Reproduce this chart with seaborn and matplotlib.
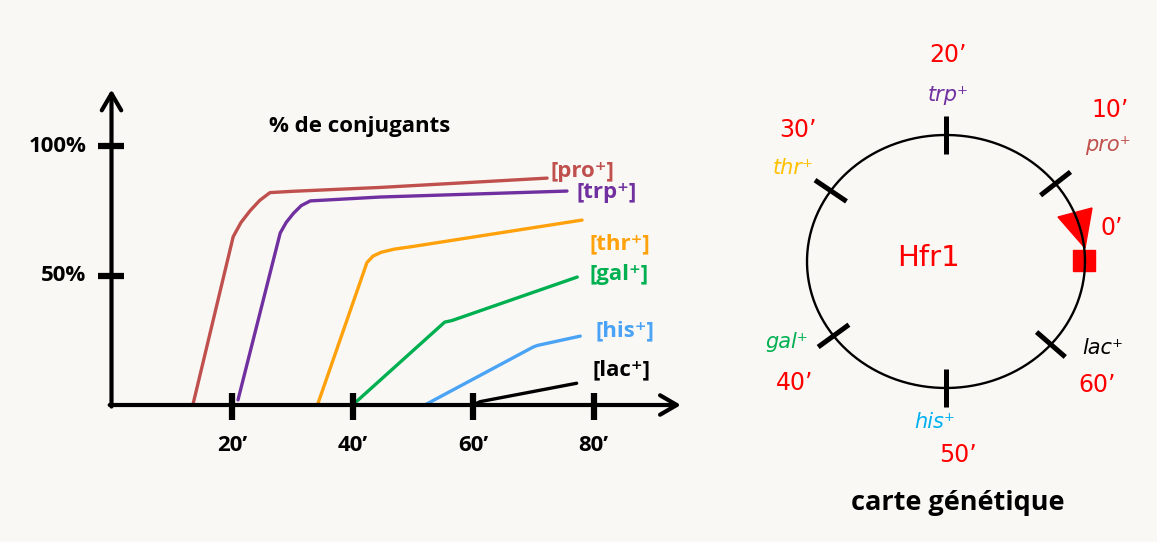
import numpy as np
import pandas as pd
import matplotlib
matplotlib.use('Agg')
import matplotlib.pyplot as plt
import seaborn as sns
from matplotlib.patches import Polygon, Rectangle

# --- data -------------------------------------------------------------
genes = ['pro', 'trp', 'thr', 'gal', 'his', 'lac']
pro_t = [13.5, 20.2, 21.5, 23, 24.6, 26.3, 30, 44.6, 72.3]
pro_y = [0, 65, 70.5, 75, 79, 82, 82.5, 84, 87.6]
trp_t = [21, 28, 29, 30.2, 31.5, 33, 44.6, 75.6]
trp_y = [2, 66.4, 70.5, 74, 77, 78.8, 80.3, 82.6]
thr_t = [34.3, 42.4, 43.4, 44.8, 47, 50, 78.1]
thr_y = [0.8, 55, 57.5, 59, 60.2, 61.2, 71.4]
gal_t = [40.4, 55.3, 56.5, 77.3]
gal_y = [0.8, 32, 32.6, 49.4]
his_t = [52, 70, 70.7, 77.8]
his_y = [0, 22.4, 23, 26.6]
lac_t = [60, 61.2, 77.2]
lac_y = [0, 1.3, 8.4]

line_colors = {'pro': '#c0504d', 'trp': '#7030a0', 'thr': '#ffa10a',
               'gal': '#00b050', 'his': '#4ba3f5', 'lac': '#000000'}
curve_labels = ['[pro⁺]', '[trp⁺]', '[thr⁺]', '[gal⁺]', '[his⁺]', '[lac⁺]']
label_x = [72.9, 77.1, 79.4, 79.4, 80.4, 79.9]
label_y = [90, 81.9, 62.2, 50.2, 28.6, 13.5]

x_ticks = [20, 40, 60, 80]
x_tick_labels = ['20’', '40’', '60’', '80’']
y_ticks = [50, 100]
y_tick_labels = ['50%', '100%']

# genetic map
map_minutes = ['10’', '20’', '30’', '40’', '50’', '60’']
map_genes = ['pro⁺', 'trp⁺', 'thr⁺', 'gal⁺', 'his⁺', 'lac⁺']
map_gene_colors = ['#c0504d', '#7030a0', '#ffc000', '#00b050', '#00b0f0', '#000000']
map_angles = [38, 90, 146, 216, 270, 319]
minute_pos = [(164, 151.5), (2, 206.5), (-148, 131.5), (-151, -121.5), (12, -193.5), (151, -123.5)]
gene_pos = [(162, 116.5), (2, 166.5), (-153, 93.5), (-159, -80.5), (-11, -160.5), (157, -86.5)]

# --- figure -------------------------------------------------------------
bg = '#f9f8f5'
sns.set_theme(style='white')
plt.rcParams['font.family'] = ['Open Sans', 'DejaVu Sans']
plt.rcParams['text.color'] = 'black'
W, H = 1157, 542
fig = plt.figure(figsize=(W / 100, H / 100), dpi=100, facecolor=bg)

# left panel: pixel -> data mapping  x0=111.5px, 6.025 px/min ; y0=405px, 2.59 px/%
ax = fig.add_axes([0, 72 / H, 700 / W, 410 / H])
ax.set_facecolor(bg)
ax.set_xlim((0 - 111.5) / 6.025, (700 - 111.5) / 6.025)
ax.set_ylim((405 - 470) / 2.59, (405 - 60) / 2.59)
ax.axis('off')

ts = [pro_t, trp_t, thr_t, gal_t, his_t, lac_t]
ys = [pro_y, trp_y, thr_y, gal_y, his_y, lac_y]
df = pd.concat([pd.DataFrame({'t': t, 'pct': y, 'gene': g})
                for g, t, y in zip(genes, ts, ys)])
sns.lineplot(data=df, x='t', y='pct', hue='gene', palette=line_colors, units='gene',
             estimator=None, sort=False, legend=False, lw=2.4, ax=ax)

arrow = dict(arrowstyle='->, head_length=0.6, head_width=0.35', lw=3, color='black',
             mutation_scale=20, shrinkA=0, shrinkB=0)
ax.annotate('', xy=(94.5, 0), xytext=(-0.3, 0), arrowprops=arrow)
ax.annotate('', xy=(0, 121.8), xytext=(0, -0.6), arrowprops=arrow)

for xt, lab in zip(x_ticks, x_tick_labels):
    ax.plot([xt, xt], [4.8, -5.8], color='black', lw=4.5, solid_capstyle='butt')
    ax.text(xt, -15.8, lab, ha='center', va='center', fontsize=16, fontweight='bold')
for yt, lab in zip(y_ticks, y_tick_labels):
    ax.plot([-2.3, 2.1], [yt, yt], color='black', lw=4.5, solid_capstyle='butt')
    ax.text(-4.2, yt, lab, ha='right', va='center', fontsize=16, fontweight='bold')

ax.text(41.2, 107.5, '% de conjugants', ha='center', va='center', fontsize=16,
        fontweight='bold')
for g, lab, lx, ly in zip(genes, curve_labels, label_x, label_y):
    ax.text(lx, ly, lab, ha='left', va='center', fontsize=16, fontweight='bold',
            color=line_colors[g])

# right panel: genetic map, units = pixels around centre (946, 261.5)
mx = fig.add_axes([740 / W, 0, 417 / W, 1])
mx.set_facecolor(bg)
mx.set_xlim(740 - 946, W - 946)
mx.set_ylim(261.5 - H, 261.5)
mx.axis('off')

rx, ry = 139, 126.5
th = np.linspace(0, 2 * np.pi, 400)
sns.lineplot(x=rx * np.cos(th), y=ry * np.sin(th), sort=False, estimator=None,
             color='black', lw=1.7, ax=mx)

for ang in map_angles:
    a = np.deg2rad(ang)
    px, py = rx * np.cos(a), ry * np.sin(a)
    dx, dy = np.cos(a) * 19, np.sin(a) * 19
    mx.plot([px - dx, px + dx], [py - dy, py + dy], color='black', lw=3.6,
            solid_capstyle='butt')

map_font = ['DejaVu Sans']
for lab, (x, y) in zip(map_minutes, minute_pos):
    mx.text(x, y, lab, ha='center', va='center', fontsize=17, color='#ff0000', family=map_font)
for lab, c, (x, y) in zip(map_genes, map_gene_colors, gene_pos):
    mx.text(x, y, lab, ha='center', va='center', fontsize=15, color=c, style='italic',
            family=map_font)
mx.text(166, 33.5, '0’', ha='center', va='center', fontsize=17, color='#ff0000', family=map_font)
mx.text(-17, 4, 'Hfr1', ha='center', va='center', fontsize=21, color='#ff0000', family=map_font)

mx.add_patch(Polygon([(112, 44.5), (146, 53.5), (139, 13.5)], closed=True, color='#ff0000'))
mx.add_patch(Rectangle((127, -9), 22, 21, color='#ff0000'))

mx.text(12, -241.5, 'carte génétique', ha='center', va='center', fontsize=19.5,
        fontweight='bold')

plt.savefig('out.png', dpi=100, facecolor=bg)
